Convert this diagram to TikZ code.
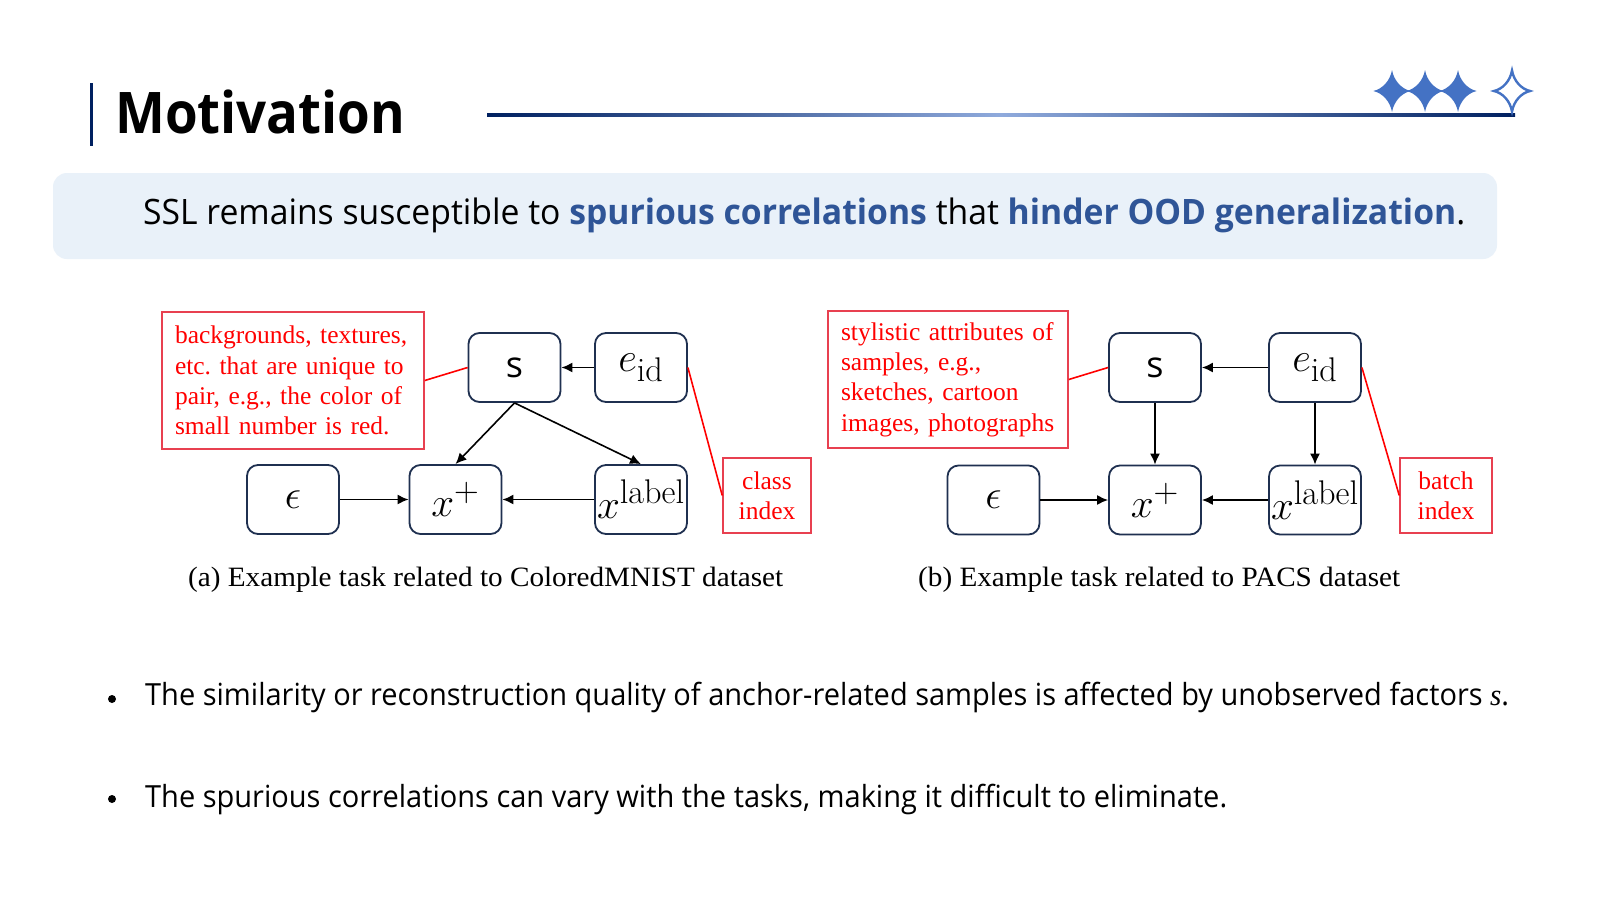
\documentclass[tikz,border=0pt]{standalone}
\usepackage{fontspec}
\usepackage{graphicx}
\usetikzlibrary{arrows.meta}
\newfontfamily\osans{Open Sans}
\newfontfamily\tnr{Liberation Serif}
\definecolor{navy}{RGB}{0,32,96}
\definecolor{boxnavy}{RGB}{31,48,80}
\definecolor{lineblue}{RGB}{143,170,220}
\definecolor{starblue}{RGB}{68,114,196}
\definecolor{panel}{RGB}{233,241,249}
\definecolor{hlblue}{RGB}{47,85,151}
\definecolor{redbox}{RGB}{232,64,80}
\newcommand\fitto[2]{\resizebox{#1}{\height}{#2}}
\newcommand\nodemath[1]{\scalebox{1.65}{$#1$}}
\frenchspacing
\tikzset{
  var/.style={draw=boxnavy, line width=1.8pt, rounded corners=11pt, minimum width=92pt, minimum height=69pt, inner sep=0pt, font=\fontsize{24.88}{28}\selectfont},
  note/.style={draw=redbox, line width=1.5pt, text=red, font=\tnr\fontsize{25.5}{30.3}\selectfont, inner sep=0pt},
  arr/.style={-{Latex[length=11pt,width=10pt]}, line width=1.6pt},
  redline/.style={red, line width=1.6pt},
  txt/.style={inner sep=0pt, anchor=base west},
}
\begin{document}
\begin{tikzpicture}[x=1pt,y=-1pt]
\useasboundingbox (0,0) rectangle (1600,900);
\fill[white] (0,0) rectangle (1600,900);

% title
\draw[navy, line width=3pt] (91,83) -- (91,146);
\node[txt, font=\osans\bfseries\fontsize{57.4}{60}\selectfont] (title) at (115,133) {\fitto{290pt}{Motivation}};
\shade[left color=navy, right color=navy, middle color=lineblue] (487,113.5) rectangle (1515,116.5);
\foreach \cx in {1392,1425,1458}
  \fill[starblue, shift={(\cx,91)}, xscale=18.7, yscale=21]
    (0,-1) .. controls (0.1,-0.5) and (0.5,-0.1) .. (1,0)
    .. controls (0.5,0.1) and (0.1,0.5) .. (0,1)
    .. controls (-0.1,0.5) and (-0.5,0.1) .. (-1,0)
    .. controls (-0.5,-0.1) and (-0.1,-0.5) .. (0,-1) -- cycle;
\draw[starblue, line width=2.4pt, shift={(1512,91)}, xscale=18, yscale=20.5]
    (0,-1) .. controls (0.1,-0.5) and (0.5,-0.1) .. (1,0)
    .. controls (0.5,0.1) and (0.1,0.5) .. (0,1)
    .. controls (-0.1,0.5) and (-0.5,0.1) .. (-1,0)
    .. controls (-0.5,-0.1) and (-0.1,-0.5) .. (0,-1) -- cycle;

% panel
\fill[panel, rounded corners=14pt] (53,173) rectangle (1497,259);
\node[txt, font=\osans\fontsize{35}{40}\selectfont] (ssl) at (143,224) {\fitto{1322pt}{SSL remains susceptible to \textcolor{hlblue}{\bfseries spurious correlations} that \textcolor{hlblue}{\bfseries hinder OOD generalization}.}};

% diagram (a)
\node[note, minimum width=262pt, minimum height=137pt, text width=236pt, align=left] (r1) at (293,380.5) {backgrounds, textures,\\etc. that are unique to\\pair, e.g., the color of\\small number is red.};
\node[var] (s1) at (514.5,367.5) {\osans\fontsize{36}{40}\selectfont s};
\node[var] (e1) at (641,367.5) {\nodemath{e_{\mathrm{id}}}};
\node[var] (eps1) at (293,499.5) {\nodemath{\epsilon}};
\node[var] (xp1) at (455.5,499.5) {\nodemath{x^{+}}};
\node[var] (xl1) at (641,499.5) {\nodemath{x^{\mathrm{label}}}};
\node[note, minimum width=88pt, minimum height=75pt, align=center] (cls) at (767,495.5) {class\\index};
\draw[arr] (e1) -- (s1);
\draw[arr] (eps1) -- (xp1);
\draw[arr] (xl1) -- (xp1);
\draw[arr] (s1.south) -- (xp1.north);
\draw[arr] (s1.south) -- (xl1.north);
\draw[redline] (r1.east) -- (s1.west);
\draw[redline] (e1.east) -- (cls.west);
\node[txt, font=\tnr\fontsize{28}{32}\selectfont] (capa) at (188,586) {\fitto{595pt}{(a) Example task related to ColoredMNIST dataset}};

% diagram (b)
\node[note, minimum width=240pt, minimum height=137pt, text width=214pt, align=left] (r2) at (948,379.5) {stylistic attributes of\\samples, e.g.,\\sketches, cartoon\\images, photographs};
\node[var] (s2) at (1155,367.5) {\osans\fontsize{36}{40}\selectfont s};
\node[var] (e2) at (1315,367.5) {\nodemath{e_{\mathrm{id}}}};
\node[var] (eps2) at (993.5,500) {\nodemath{\epsilon}};
\node[var] (xp2) at (1155,500) {\nodemath{x^{+}}};
\node[var] (xl2) at (1315,500) {\nodemath{x^{\mathrm{label}}}};
\node[note, minimum width=92pt, minimum height=75pt, align=center] (bat) at (1446,495.5) {batch\\index};
\draw[arr] (e2) -- (s2);
\draw[arr] (s2) -- (xp2);
\draw[arr] (e2) -- (xl2);
\draw[arr] (eps2) -- (xp2);
\draw[arr] (xl2) -- (xp2);
\draw[redline] (r2.east) -- (s2.west);
\draw[redline] (e2.east) -- (bat.west);
\node[txt, font=\tnr\fontsize{28}{32}\selectfont] (capb) at (918,586) {\fitto{482pt}{(b) Example task related to PACS dataset}};

% bullets
\fill (112,699) circle (4pt);
\node[txt, font=\osans\fontsize{30.5}{36}\selectfont] (b1) at (145,705) {\fitto{1364pt}{The similarity or reconstruction quality of anchor-related samples is affected by unobserved factors {\tnr\itshape s}.}};
\fill (112,799) circle (4pt);
\node[txt, font=\osans\fontsize{30.5}{36}\selectfont] (b2) at (145,807) {\fitto{1082pt}{The spurious correlations can vary with the tasks, making it difficult to eliminate.}};
\end{tikzpicture}
\end{document}
